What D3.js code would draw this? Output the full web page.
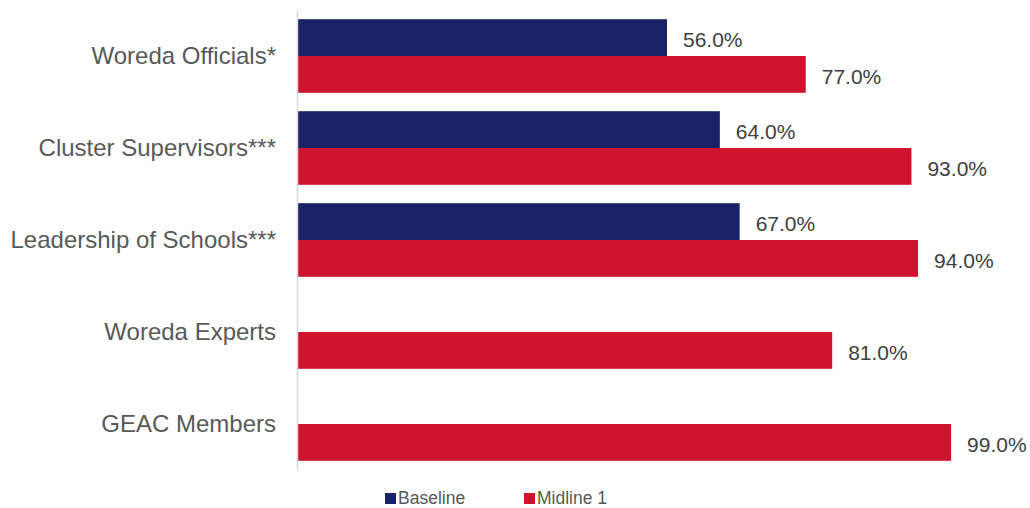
<!DOCTYPE html>
<html>
<head>
<meta charset="utf-8">
<script src="https://cdn.jsdelivr.net/npm/d3@7"></script>
<style>
  body { margin: 0; background: #fff; }
  text { font-family: "Liberation Sans", Arial, sans-serif; }
</style>
</head>
<body>
<div id="main"></div>
<script>
const ctx = {
    w: 1030,
    h: 508
};

// data
const categories = ["Woreda Officials*", "Cluster Supervisors***", "Leadership of Schools***", "Woreda Experts", "GEAC Members"];
const seriesNames = ["Baseline", "Midline 1"];
const baseline = [56, 64, 67, null, null];
const midline1 = [77, 93, 94, 81, 99];
const colors = ["#1a2266", "#cf132e"];

//==============================================================================================
function createViz() {
    const svg = d3.select("#main").append("svg")
        .attr("width", ctx.w)
        .attr("height", ctx.h);

    const x = d3.scaleLinear()
        .domain([0, 100])
        .range([297, 957.7]);

    const y = d3.scaleBand()
        .domain(categories)
        .range([10, 470])
        .paddingInner(0.2)
        .paddingOuter(0.1);

    const ySub = d3.scaleBand()
        .domain(seriesNames)
        .range([0, y.bandwidth()]);

    const rows = [];
    categories.forEach((c, i) => {
        [baseline[i], midline1[i]].forEach((v, j) => {
            if (v !== null) rows.push({ cat: c, series: seriesNames[j], value: v, color: colors[j] });
        });
    });

    // bars
    svg.append("g")
        .selectAll("rect")
        .data(rows)
        .enter().append("rect")
        .attr("x", x(0))
        .attr("y", d => y(d.cat) + ySub(d.series))
        .attr("width", d => x(d.value) - x(0))
        .attr("height", ySub.bandwidth())
        .attr("fill", d => d.color);

    // value labels
    svg.append("g")
        .selectAll("text")
        .data(rows)
        .enter().append("text")
        .attr("x", d => x(d.value) + 16)
        .attr("y", d => y(d.cat) + ySub(d.series) + ySub.bandwidth() / 2 + 2)
        .attr("dy", "0.35em")
        .attr("font-size", "21px")
        .attr("fill", "#404040")
        .text(d => d.value.toFixed(1) + "%");

    // category axis
    const yAxis = svg.append("g")
        .attr("transform", `translate(${x(0)},0)`)
        .call(d3.axisLeft(y).tickSize(0).tickPadding(21));
    yAxis.select(".domain")
        .attr("stroke", "#d9d9d9")
        .attr("stroke-width", 1.5);
    yAxis.selectAll("text")
        .attr("font-size", "24px")
        .attr("font-family", "Liberation Sans, Arial, sans-serif")
        .attr("fill", "#595959");

    // legend
    const legendX = [385, 524];
    const legend = svg.append("g")
        .selectAll("g")
        .data(seriesNames)
        .enter().append("g")
        .attr("transform", (d, i) => `translate(${legendX[i]},493)`);

    legend.append("rect")
        .attr("width", 11)
        .attr("height", 11)
        .attr("fill", (d, i) => colors[i]);

    legend.append("text")
        .attr("x", 13)
        .attr("y", 11)
        .attr("font-size", "17.5px")
        .attr("fill", "#595959")
        .text(d => d);
}

createViz();
</script>
</body>
</html>
